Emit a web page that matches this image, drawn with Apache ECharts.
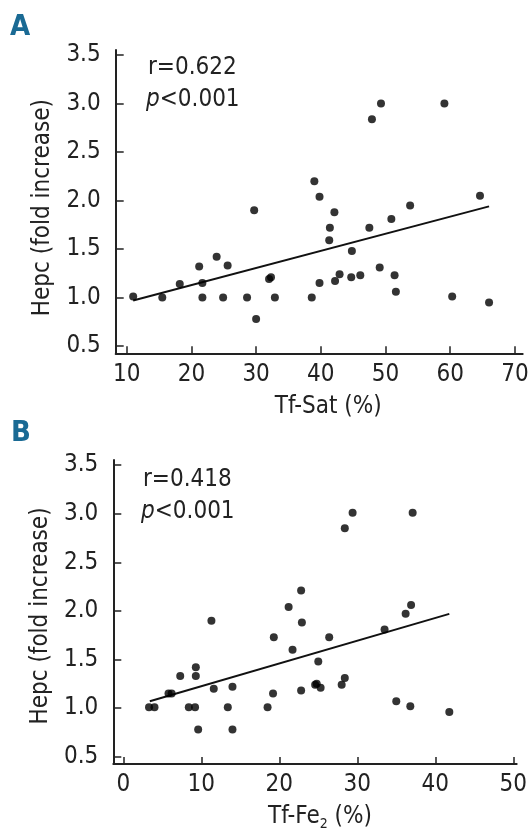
<!DOCTYPE html>
<html>
<head>
<meta charset="utf-8">
<script src="https://cdn.jsdelivr.net/npm/echarts@6/dist/echarts.min.js"></script>
<style>
html,body{margin:0;padding:0;background:#fff;}
#main{width:531px;height:833px;}
</style>
</head>
<body>
<div id="main"></div>
<script>
// panel A : Tf-Sat vs hepcidin
var tfSat = [11.0, 15.5, 18.2, 21.2, 21.7, 21.7, 23.9, 24.9, 25.6, 28.6, 29.7, 30.0, 32.0, 32.3, 32.9, 38.6, 39.0, 39.8, 39.8,
    41.3, 41.4, 42.1, 42.2, 42.9, 44.7, 44.8, 46.1, 47.5, 47.9, 49.1, 49.3, 50.9, 51.4, 51.6, 53.8, 59.1, 60.3, 64.6, 66.0];
var hepcA = [1.01, 1.00, 1.14, 1.32, 1.15, 1.00, 1.42, 1.00, 1.33, 1.00, 1.90, 0.78, 1.19, 1.21, 1.00, 1.00, 2.20, 2.04, 1.15,
    1.59, 1.72, 1.88, 1.17, 1.24, 1.21, 1.48, 1.23, 1.72, 2.84, 1.31, 3.00, 1.81, 1.23, 1.06, 1.95, 3.00, 1.01, 2.05, 0.95];
var fitAx = [11.0, 66.0];
var fitAy = [0.97, 1.94];

// panel B : Tf-Fe2 vs hepcidin
var tfFe = [3.3, 4.0, 5.8, 6.2, 7.3, 8.4, 9.2, 9.3, 9.3, 9.6, 11.3, 11.6, 13.4, 14.0, 14.0, 18.5, 19.2, 19.3, 21.2, 21.7,
    22.8, 22.9, 22.8, 24.6, 24.8, 25.3, 25.0, 26.4, 28.0, 28.4, 28.4, 29.4, 33.5, 35.0, 36.2, 36.9, 37.1, 36.8, 41.8];
var hepcB = [1.01, 1.01, 1.15, 1.15, 1.33, 1.01, 1.01, 1.42, 1.33, 0.78, 1.90, 1.20, 1.01, 1.22, 0.78, 1.01, 1.15, 1.73, 2.04, 1.60,
    2.21, 1.88, 1.18, 1.24, 1.25, 1.21, 1.48, 1.73, 1.24, 1.31, 2.85, 3.01, 1.81, 1.07, 1.97, 2.06, 3.01, 1.02, 0.96];
var fitBx = [3.4, 41.8];
var fitBy = [1.07, 1.97];

// tick labels
var xTicksA = [10, 20, 30, 40, 50, 60, 70];
var xTicksB = [0, 10, 20, 30, 40, 50];
var yTicks = [0.5, 1.0, 1.5, 2.0, 2.5, 3.0, 3.5];

var FONT = "'Liberation Sans Narrow', 'DejaVu Sans Condensed', sans-serif";
var INK = '#222';
var BLUE = '#1a6a94';

function pairs(xs, ys) {
    return xs.map(function (x, i) { return [x, ys[i]]; });
}

function xAxis(idx, min, max, ticks, name, padLeft) {
    return {
        type: 'value', gridIndex: idx, min: min, max: max,
        name: name, nameLocation: 'middle', nameGap: 41,
        nameTextStyle: {
            fontFamily: FONT, fontSize: 24, color: INK, padding: [0, 0, 0, padLeft],
            rich: { sub: { fontFamily: FONT, fontSize: 14, color: INK, verticalAlign: 'bottom', padding: [0, 0, -2, 0] } }
        },
        splitLine: { show: false },
        axisLine: { onZero: false, lineStyle: { color: INK, width: 2 } },
        axisTick: { inside: true, length: 7, customValues: ticks, lineStyle: { color: INK, width: 1.5 } },
        axisLabel: { customValues: ticks, margin: 9, fontFamily: FONT, fontSize: 24, color: INK }
    };
}

function yAxis(idx, padRight) {
    return {
        type: 'value', gridIndex: idx, min: 0.425, max: 3.553,
        name: 'Hepc (fold increase)', nameLocation: 'middle', nameGap: 61,
        nameTextStyle: { fontFamily: FONT, fontSize: 24, color: INK, padding: [0, padRight, 0, 0] },
        splitLine: { show: false },
        axisLine: { onZero: false, lineStyle: { color: INK, width: 2 } },
        axisTick: { inside: true, length: 8, customValues: yTicks, lineStyle: { color: INK, width: 1.5 } },
        axisLabel: {
            customValues: yTicks, margin: 15, fontFamily: FONT, fontSize: 24, color: INK,
            formatter: function (v) { return v.toFixed(1); }
        }
    };
}

function dots(idx, xs, ys) {
    return {
        type: 'scatter', xAxisIndex: idx, yAxisIndex: idx, data: pairs(xs, ys),
        symbol: 'circle', symbolSize: 8, itemStyle: { color: '#000' }, z: 3, silent: true
    };
}

function fit(idx, xs, ys) {
    return {
        type: 'line', xAxisIndex: idx, yAxisIndex: idx, data: pairs(xs, ys),
        symbol: 'none', lineStyle: { color: '#111', width: 2 }, z: 2, silent: true
    };
}

function stat(x, y, r) {
    return [
        { type: 'text', left: x, top: y, style: { text: r, font: '24px ' + FONT, fill: INK } },
        {
            type: 'text', left: x - 2, top: y + 32, style: {
                text: '{i|p}<0.001', font: '24px ' + FONT, fill: INK,
                rich: { i: { fontStyle: 'italic', fontFamily: FONT, fontSize: 24, fill: INK } }
            }
        }
    ];
}

var myChart = echarts.init(document.getElementById('main'));
var option = {
    backgroundColor: '#fff',
    animation: false,
    grid: [
        { left: 115.7, top: 50, width: 407, height: 303.3, outerBoundsMode: 'none' },
        { left: 113.3, top: 460, width: 403.4, height: 304, outerBoundsMode: 'none' }
    ],
    xAxis: [
        xAxis(0, 8.3, 71.2, xTicksA, 'Tf-Sat (%)', 18),
        xAxis(1, -1.28, 50.44, xTicksB, 'Tf-Fe{sub|2} (%)', 10)
    ],
    yAxis: [yAxis(0, 12), yAxis(1, 8)],
    series: [
        fit(0, fitAx, fitAy),
        dots(0, tfSat, hepcA),
        fit(1, fitBx, fitBy),
        dots(1, tfFe, hepcB)
    ],
    graphic: [
        { type: 'text', left: 10, top: 13, style: { text: 'A', font: 'bold 29px ' + FONT, fill: BLUE } },
        { type: 'text', left: 11, top: 419, style: { text: 'B', font: 'bold 29px ' + FONT, fill: BLUE } }
    ].concat(stat(148, 56, 'r=0.622'), stat(143, 468, 'r=0.418'))
};
myChart.setOption(option);
</script>
</body>
</html>
